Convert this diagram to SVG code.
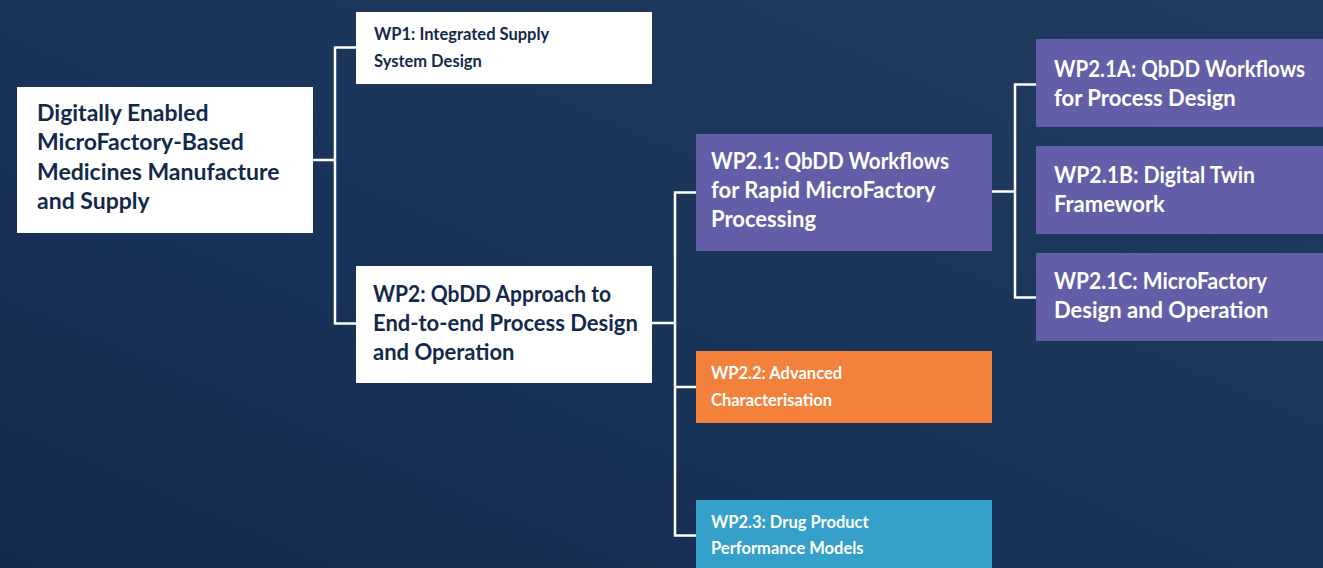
<svg xmlns="http://www.w3.org/2000/svg" width="1323" height="568" viewBox="0 0 1323 568">
<defs>
<linearGradient id="bg" x1="0" y1="1" x2="1" y2="0">
<stop offset="0" stop-color="#122a4e"/>
<stop offset="0.45" stop-color="#1a3358"/>
<stop offset="1" stop-color="#223b60"/>
</linearGradient>
<style>
.white{fill:#ffffff}
.purple{fill:#625ea8}
.orange{fill:#f2823b}
.blue{fill:#35a0c9}
text{font-family:Lato,"Open Sans","Liberation Sans",sans-serif;font-weight:700}
.dk{fill:#13294b}
.lt{fill:#ffffff}
.big{font-size:22px}
.root{font-size:23px}
.sm{font-size:16.5px}
.conn{fill:none;stroke:#ffffff;stroke-width:2.5}
</style>
</defs>
<rect x="0" y="0" width="1323" height="568" fill="url(#bg)"/>
<g id="connectors">
<path class="conn" d="M312 160 H335 M356 47.5 H335 V323.5 H356"/>
<path class="conn" d="M651 323 H675 M696 192.5 H675 V535.5 H696 M675 387 H696"/>
<path class="conn" d="M991 191.5 H1015 M1036 84.5 H1015 V297.5 H1036"/>
</g>
<g id="root">
<rect class="white" x="17" y="87" width="296" height="146"/>
<text class="dk root" x="37" y="121">Digitally Enabled</text>
<text class="dk root" x="37" y="150">MicroFactory-Based</text>
<text class="dk root" x="37" y="179.5">Medicines Manufacture</text>
<text class="dk root" x="37" y="208.5">and Supply</text>
</g>
<g id="wp1">
<rect class="white" x="356" y="12" width="296" height="72"/>
<text class="dk sm" x="374" y="40">WP1: Integrated Supply</text>
<text class="dk sm" x="374" y="66.5">System Design</text>
</g>
<g id="wp2">
<rect class="white" x="356" y="266" width="296" height="117"/>
<text class="dk big" x="373" y="301.5" textLength="238" lengthAdjust="spacingAndGlyphs">WP2: QbDD Approach to</text>
<text class="dk big" x="373" y="330.5">End-to-end Process Design</text>
<text class="dk big" x="373" y="359.5">and Operation</text>
</g>
<g id="wp2-1">
<rect class="purple" x="696" y="134" width="296" height="117"/>
<text class="lt big" x="711" y="168.5" textLength="238" lengthAdjust="spacingAndGlyphs">WP2.1: QbDD Workflows</text>
<text class="lt big" x="711" y="197.5">for Rapid MicroFactory</text>
<text class="lt big" x="711" y="226.5">Processing</text>
</g>
<g id="wp2-2">
<rect class="orange" x="696" y="351" width="296" height="72"/>
<text class="lt sm" x="711" y="379">WP2.2: Advanced</text>
<text class="lt sm" x="711" y="405.5">Characterisation</text>
</g>
<g id="wp2-3">
<rect class="blue" x="696" y="500" width="296" height="72"/>
<text class="lt sm" x="711" y="528">WP2.3: Drug Product</text>
<text class="lt sm" x="711" y="554">Performance Models</text>
</g>
<g id="wp2-1a">
<rect class="purple" x="1036" y="39" width="287" height="88"/>
<text class="lt big" x="1054" y="77" textLength="251" lengthAdjust="spacingAndGlyphs">WP2.1A: QbDD Workflows</text>
<text class="lt big" x="1054" y="106">for Process Design</text>
</g>
<g id="wp2-1b">
<rect class="purple" x="1036" y="146" width="287" height="88"/>
<text class="lt big" x="1054" y="182.5" textLength="201" lengthAdjust="spacingAndGlyphs">WP2.1B: Digital Twin</text>
<text class="lt big" x="1054" y="211.5">Framework</text>
</g>
<g id="wp2-1c">
<rect class="purple" x="1036" y="253" width="287" height="88"/>
<text class="lt big" x="1054" y="288.5" textLength="213" lengthAdjust="spacingAndGlyphs">WP2.1C: MicroFactory</text>
<text class="lt big" x="1054" y="318">Design and Operation</text>
</g>
</svg>
